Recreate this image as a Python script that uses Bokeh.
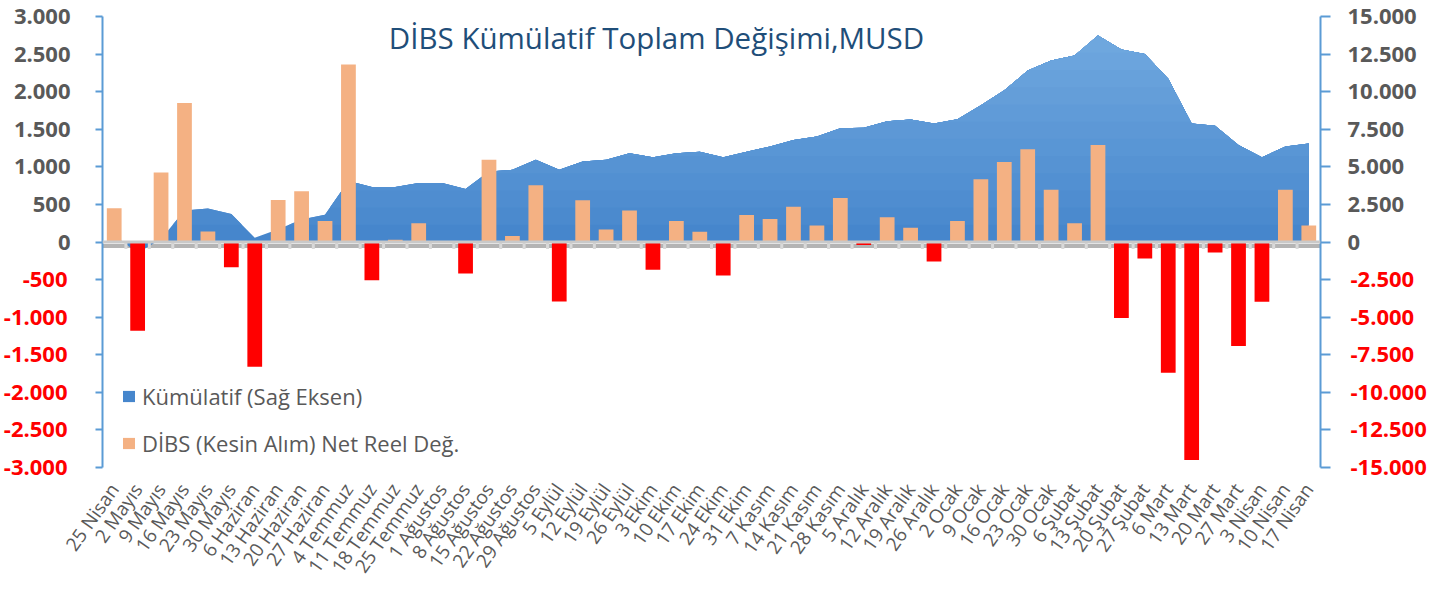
import math
import numpy as np
from bokeh.plotting import figure
from bokeh.models import (Range1d, LinearAxis, FixedTicker, ColumnDataSource,
                          Legend, LegendItem, Span, Label)
from bokeh.embed import file_html
from bokeh.resources import INLINE

# ---------------- data ----------------
categories = ["25 Nisan", "2 Mayıs", "9 Mayıs", "16 Mayıs", "23 Mayıs", "30 Mayıs",
              "6 Haziran", "13 Haziran", "20 Haziran", "27 Haziran", "4 Temmuz",
              "11 Temmuz", "18 Temmuz", "25 Temmuz", "1 Ağustos", "8 Ağustos",
              "15 Ağustos", "22 Ağustos", "29 Ağustos", "5 Eylül", "12 Eylül",
              "19 Eylül", "26 Eylül", "3 Ekim", "10 Ekim", "17 Ekim", "24 Ekim",
              "31 Ekim", "7 Kasım", "14 Kasım", "21 Kasım", "28 Kasım", "5 Aralık",
              "12 Aralık", "19 Aralık", "26 Aralık", "2 Ocak", "9 Ocak", "16 Ocak",
              "23 Ocak", "30 Ocak", "6 Şubat", "13 Şubat", "20 Şubat", "27 Şubat",
              "6 Mart", "13 Mart", "20 Mart", "27 Mart", "3 Nisan", "10 Nisan",
              "17 Nisan"]

dibs_net = [450, -1180, 925, 1850, 140, -335, -1660, 560, 675, 280, 2360,
            -510, 30, 250, 0, -420, 1095, 80, 755, -790, 555, 165, 420, -370,
            280, 135, -445, 360, 305, 470, 220, 585, -40, 330, 190, -260, 280,
            835, 1065, 1235, 695, 250, 1290, -1010, -220, -1740, -2900, -140,
            -1385, -795, 695, 220]

cumulative = [450, -730, 200, 2100, 2230, 1870, 280, 840, 1500, 1820, 4050,
              3660, 3660, 3920, 3920, 3520, 4690, 4800, 5470, 4800, 5350, 5470,
              5900, 5640, 5900, 6010, 5640, 6010, 6350, 6790, 7010, 7560, 7600,
              8040, 8150, 7890, 8170, 9100, 10090, 11410, 12080, 12410, 13730,
              12800, 12510, 10860, 7890, 7730, 6460, 5640, 6350, 6560]

left_ticks = [-3000, -2500, -2000, -1500, -1000, -500, 0, 500, 1000, 1500, 2000, 2500, 3000]
left_labels = ["-3.000", "-2.500", "-2.000", "-1.500", "-1.000", "-500", "0",
               "500", "1.000", "1.500", "2.000", "2.500", "3.000"]
right_ticks = [-15000, -12500, -10000, -7500, -5000, -2500, 0, 2500, 5000, 7500,
               10000, 12500, 15000]
right_labels = ["-15.000", "-12.500", "-10.000", "-7.500", "-5.000", "-2.500", "0",
                "2.500", "5.000", "7.500", "10.000", "12.500", "15.000"]

title_text = "DİBS Kümülatif Toplam Değişimi,MUSD"
legend_labels = ["Kümülatif (Sağ Eksen)", "DİBS (Kesin Alım) Net Reel Değ."]

# ---------------- style ----------------
W, H = 1456, 589
FL, FR, FT, FB = 102, 1320, 16, 467          # frame edges (canvas px)
GRAY = "#595959"
RED = "#FF0000"
PEACH = "#F4B183"
AREA_BOTTOM = (0x46, 0x86, 0xCC)
AREA_TOP = (0x70, 0xA8, 0xDF)
AXIS_BLUE = "#5B9BD5"
FONT = "Open Sans"
TITLE_X = 656                                 # title centre (canvas px)
LABEL_GAP_L = 32                              # axis line -> label right edge
LABEL_GAP_R = 27                              # axis line -> label left edge
W_LAB_L = 57                                  # approx. width of "3.000" (bold 22px)
W_LAB_R = 69                                  # approx. width of "15.000" (bold 22px)

n = len(categories)
frame_h = FB - FT
px_left = (left_ticks[-1] - left_ticks[0]) / frame_h   # data units per px (left)
px_cat = (FR - FL) / n

p = figure(x_range=categories, y_range=Range1d(left_ticks[0], left_ticks[-1]),
           width=W, height=H, output_backend="svg", toolbar_location=None,
           min_border_left=FL, min_border_right=W - FR, min_border_top=FT,
           min_border_bottom=H - FB)
p.extra_y_ranges = {"right": Range1d(right_ticks[0], right_ticks[-1])}
p.outline_line_color = None
p.xgrid.visible = False
p.ygrid.visible = False

src = ColumnDataSource(dict(
    cat=categories, val=dibs_net, cum=cumulative,
    color=[PEACH if v >= 0 else RED for v in dibs_net]))

# zero-line shadow (behind glyphs)
p.add_layout(Span(location=-4 * px_left, dimension="width", line_color="#3a3a3a",
                  line_alpha=0.38, line_width=4, level="underlay"))

# cumulative area: base fill + lighter layers above rising thresholds (vertical gradient)
area_r = p.varea(x="cat", y1=0, y2="cum", source=src, y_range_name="right",
                 fill_color="#%02x%02x%02x" % AREA_BOTTOM)
cum = np.array(cumulative, dtype=float)
xs = np.arange(n) + 0.5                       # category centres (synthetic coords)
nb = 12
edges = np.linspace(0, cum.max(), nb + 1)
for k in range(1, nb):
    lo = edges[k]
    bx, by = [], []
    for i in range(n - 1):
        bx.append(xs[i]); by.append(cum[i])
        if (cum[i] - lo) * (cum[i + 1] - lo) < 0:
            t = (lo - cum[i]) / (cum[i + 1] - cum[i])
            bx.append(xs[i] + t); by.append(lo)
    bx.append(xs[-1]); by.append(cum[-1])
    y2 = np.maximum(np.array(by), lo)
    f = (k + 0.5) / nb
    col = tuple(int(round(a + (b - a) * f)) for a, b in zip(AREA_BOTTOM, AREA_TOP))
    p.varea(x=list(bx), y1=[lo] * len(bx), y2=list(y2), y_range_name="right",
            fill_color="#%02x%02x%02x" % col)

bar_r = p.vbar(x="cat", top="val", bottom=0, width=0.63, source=src,
               fill_color="color", line_color=None)

# category axis at zero with tick marks
p.add_layout(Span(location=0, dimension="width", line_color="#C9C9C9", line_width=3))
bounds = list(range(1, n))
p.segment(x0=bounds, x1=bounds, y0=[0] * len(bounds), y1=[-7 * px_left] * len(bounds),
          line_color="#D9D9D9", line_width=3)


def style_y(ax, tick_out, standoff, color):
    ax.axis_line_color = AXIS_BLUE
    ax.axis_line_width = 2
    ax.major_tick_line_color = AXIS_BLUE
    ax.major_tick_line_width = 2
    ax.major_tick_out = tick_out
    ax.major_tick_in = 0
    ax.minor_tick_line_color = None
    ax.major_label_standoff = standoff
    ax.major_label_text_font = FONT
    ax.major_label_text_font_style = "bold"
    ax.major_label_text_font_size = "22px"
    ax.major_label_text_color = color


# ---------------- y axes: inner = line, ticks, gray labels ----------------
yl = p.yaxis[0]
yl.ticker = FixedTicker(ticks=left_ticks)
yl.major_label_overrides = {t: (lab if t >= 0 else "") for t, lab in zip(left_ticks, left_labels)}
style_y(yl, 7, LABEL_GAP_L - 7, GRAY)

yr = LinearAxis(y_range_name="right", ticker=FixedTicker(ticks=right_ticks))
yr.major_label_overrides = {t: (lab if t >= 0 else "") for t, lab in zip(right_ticks, right_labels)}
style_y(yr, 10, LABEL_GAP_R - 10, GRAY)
p.add_layout(yr, "right")

# ---------------- outer axes: red negative labels, pulled back onto the inner ones ----------------
neg_l = [t for t in left_ticks if t < 0]
yl_neg = LinearAxis(ticker=FixedTicker(ticks=neg_l))
yl_neg.major_label_overrides = {t: lab for t, lab in zip(left_ticks, left_labels) if t < 0}
style_y(yl_neg, 0, -W_LAB_L, RED)
yl_neg.axis_line_color = None
yl_neg.major_tick_line_color = None
p.add_layout(yl_neg, "left")

neg_r = [t for t in right_ticks if t < 0]
yr_neg = LinearAxis(y_range_name="right", ticker=FixedTicker(ticks=neg_r))
yr_neg.major_label_overrides = {t: lab for t, lab in zip(right_ticks, right_labels) if t < 0}
style_y(yr_neg, 0, -W_LAB_R, RED)
yr_neg.axis_line_color = None
yr_neg.major_tick_line_color = None
p.add_layout(yr_neg, "right")

# ---------------- category labels ----------------
xa = p.xaxis[0]
xa.axis_line_color = None
xa.major_tick_line_color = None
xa.major_tick_out = 0
xa.major_label_standoff = 18
xa.major_label_orientation = math.radians(55)
xa.major_label_text_font = FONT
xa.major_label_text_font_size = "19px"
xa.major_label_text_color = GRAY

# ---------------- title (top of the frame) ----------------
p.add_layout(Label(x=(TITLE_X - FL) / px_cat, y=left_ticks[-1], text=title_text,
                   text_align="center", text_baseline="top", text_font=FONT,
                   text_font_size="29.5px", text_color="#1F4E79"))

# ---------------- legend ----------------
legend = Legend(items=[LegendItem(label=legend_labels[0], renderers=[area_r]),
                       LegendItem(label=legend_labels[1], renderers=[bar_r], index=0)],
                location=(9, -1), background_fill_alpha=0, border_line_alpha=0,
                label_text_font=FONT, label_text_font_size="22px",
                label_text_color=GRAY, glyph_width=15, glyph_height=14,
                label_standoff=6, spacing=17, padding=10, margin=0)
p.add_layout(legend)

open("out.html", "w").write(file_html(p, INLINE))
